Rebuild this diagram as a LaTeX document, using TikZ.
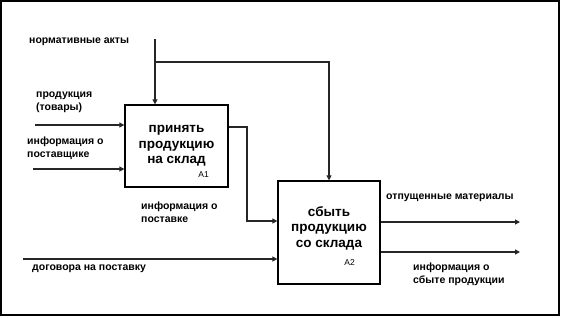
\documentclass[tikz,border=0pt]{standalone}
\usepackage{fontspec}
\setmainfont{Liberation Sans}
\usetikzlibrary{positioning,arrows.meta,calc}
\tikzset{
  fn/.style={draw=black, line width=1.3pt, fill=white, inner sep=0pt, minimum width=103pt, minimum height=82pt, align=center, font=\fontsize{13.5}{15.5}\selectfont\bfseries},
  lbl/.style={anchor=north west, inner sep=0pt, align=left, font=\fontsize{10.5}{13}\selectfont\bfseries},
  num/.style={inner sep=0pt, font=\fontsize{8.5}{10}\selectfont},
  fl/.style={-{Triangle[length=5pt,width=5pt]}, line width=1.1pt, black!85},
  frame/.style={draw=black, line width=1.6pt},
}
\begin{document}
\begin{tikzpicture}[x=1pt,y=-1pt]
\useasboundingbox (0,0) rectangle (561,317);
\draw[frame] (1,1) rectangle (559,315);

%% ---- les deux blocs
\node[fn] (a1) at (176.5,146) {принять\\продукцию\\на склад};
\node[fn, minimum width=102pt, minimum height=103pt] (a2) at (329,232.5) {сбыть\\продукцию\\со склада\\[-4pt]\mbox{}};
\node[num, anchor=east] (n1) at (209,175) {A1};
\node[num, anchor=east] (n2) at (355,263) {A2};

%% ---- les extremites libres
\coordinate (ctl) at (155,39);
\coordinate (br) at (155,62);
\coordinate (in1) at (35,125);
\coordinate (in2) at (33,169);
\coordinate (in3) at (23,259);
\coordinate (mid) at (247,127);
\coordinate (mid2) at (0,221);
\coordinate (out1) at (520,222);
\coordinate (out2) at (520,252);

%% ---- fleches
\draw[fl] (ctl) -- (ctl |- a1.north);
\draw[fl] (br) -| (a2.north);
\draw[fl] (in1) -- (in1 -| a1.west);
\draw[fl] (in2) -- (in2 -| a1.west);
\draw[fl] (in3) -- (in3 -| a2.west);
\draw[fl] (a1.east |- mid) -- (mid) |- (a2.west |- mid2);
\draw[fl] (a2.east |- out1) -- (out1);
\draw[fl] (a2.east |- out2) -- (out2);

%% ---- les etiquettes
\node[lbl] (tctl) at (29,38) {нормативные акты};
\node[lbl] (tin1) at (36,92) {продукция\\(товары)};
\node[lbl] (tin2) at (27,137) {информация о\\поставщике};
\node[lbl] (tmid) at (141,202) {информация о\\поставке};
\node[lbl] (tin3) at (32,265) {договора на поставку};
\node[lbl] (tout1) at (386,194) {отпущенные материалы};
\node[lbl] (tout2) at (413,263) {информация о\\сбыте продукции};
\end{tikzpicture}
\end{document}
